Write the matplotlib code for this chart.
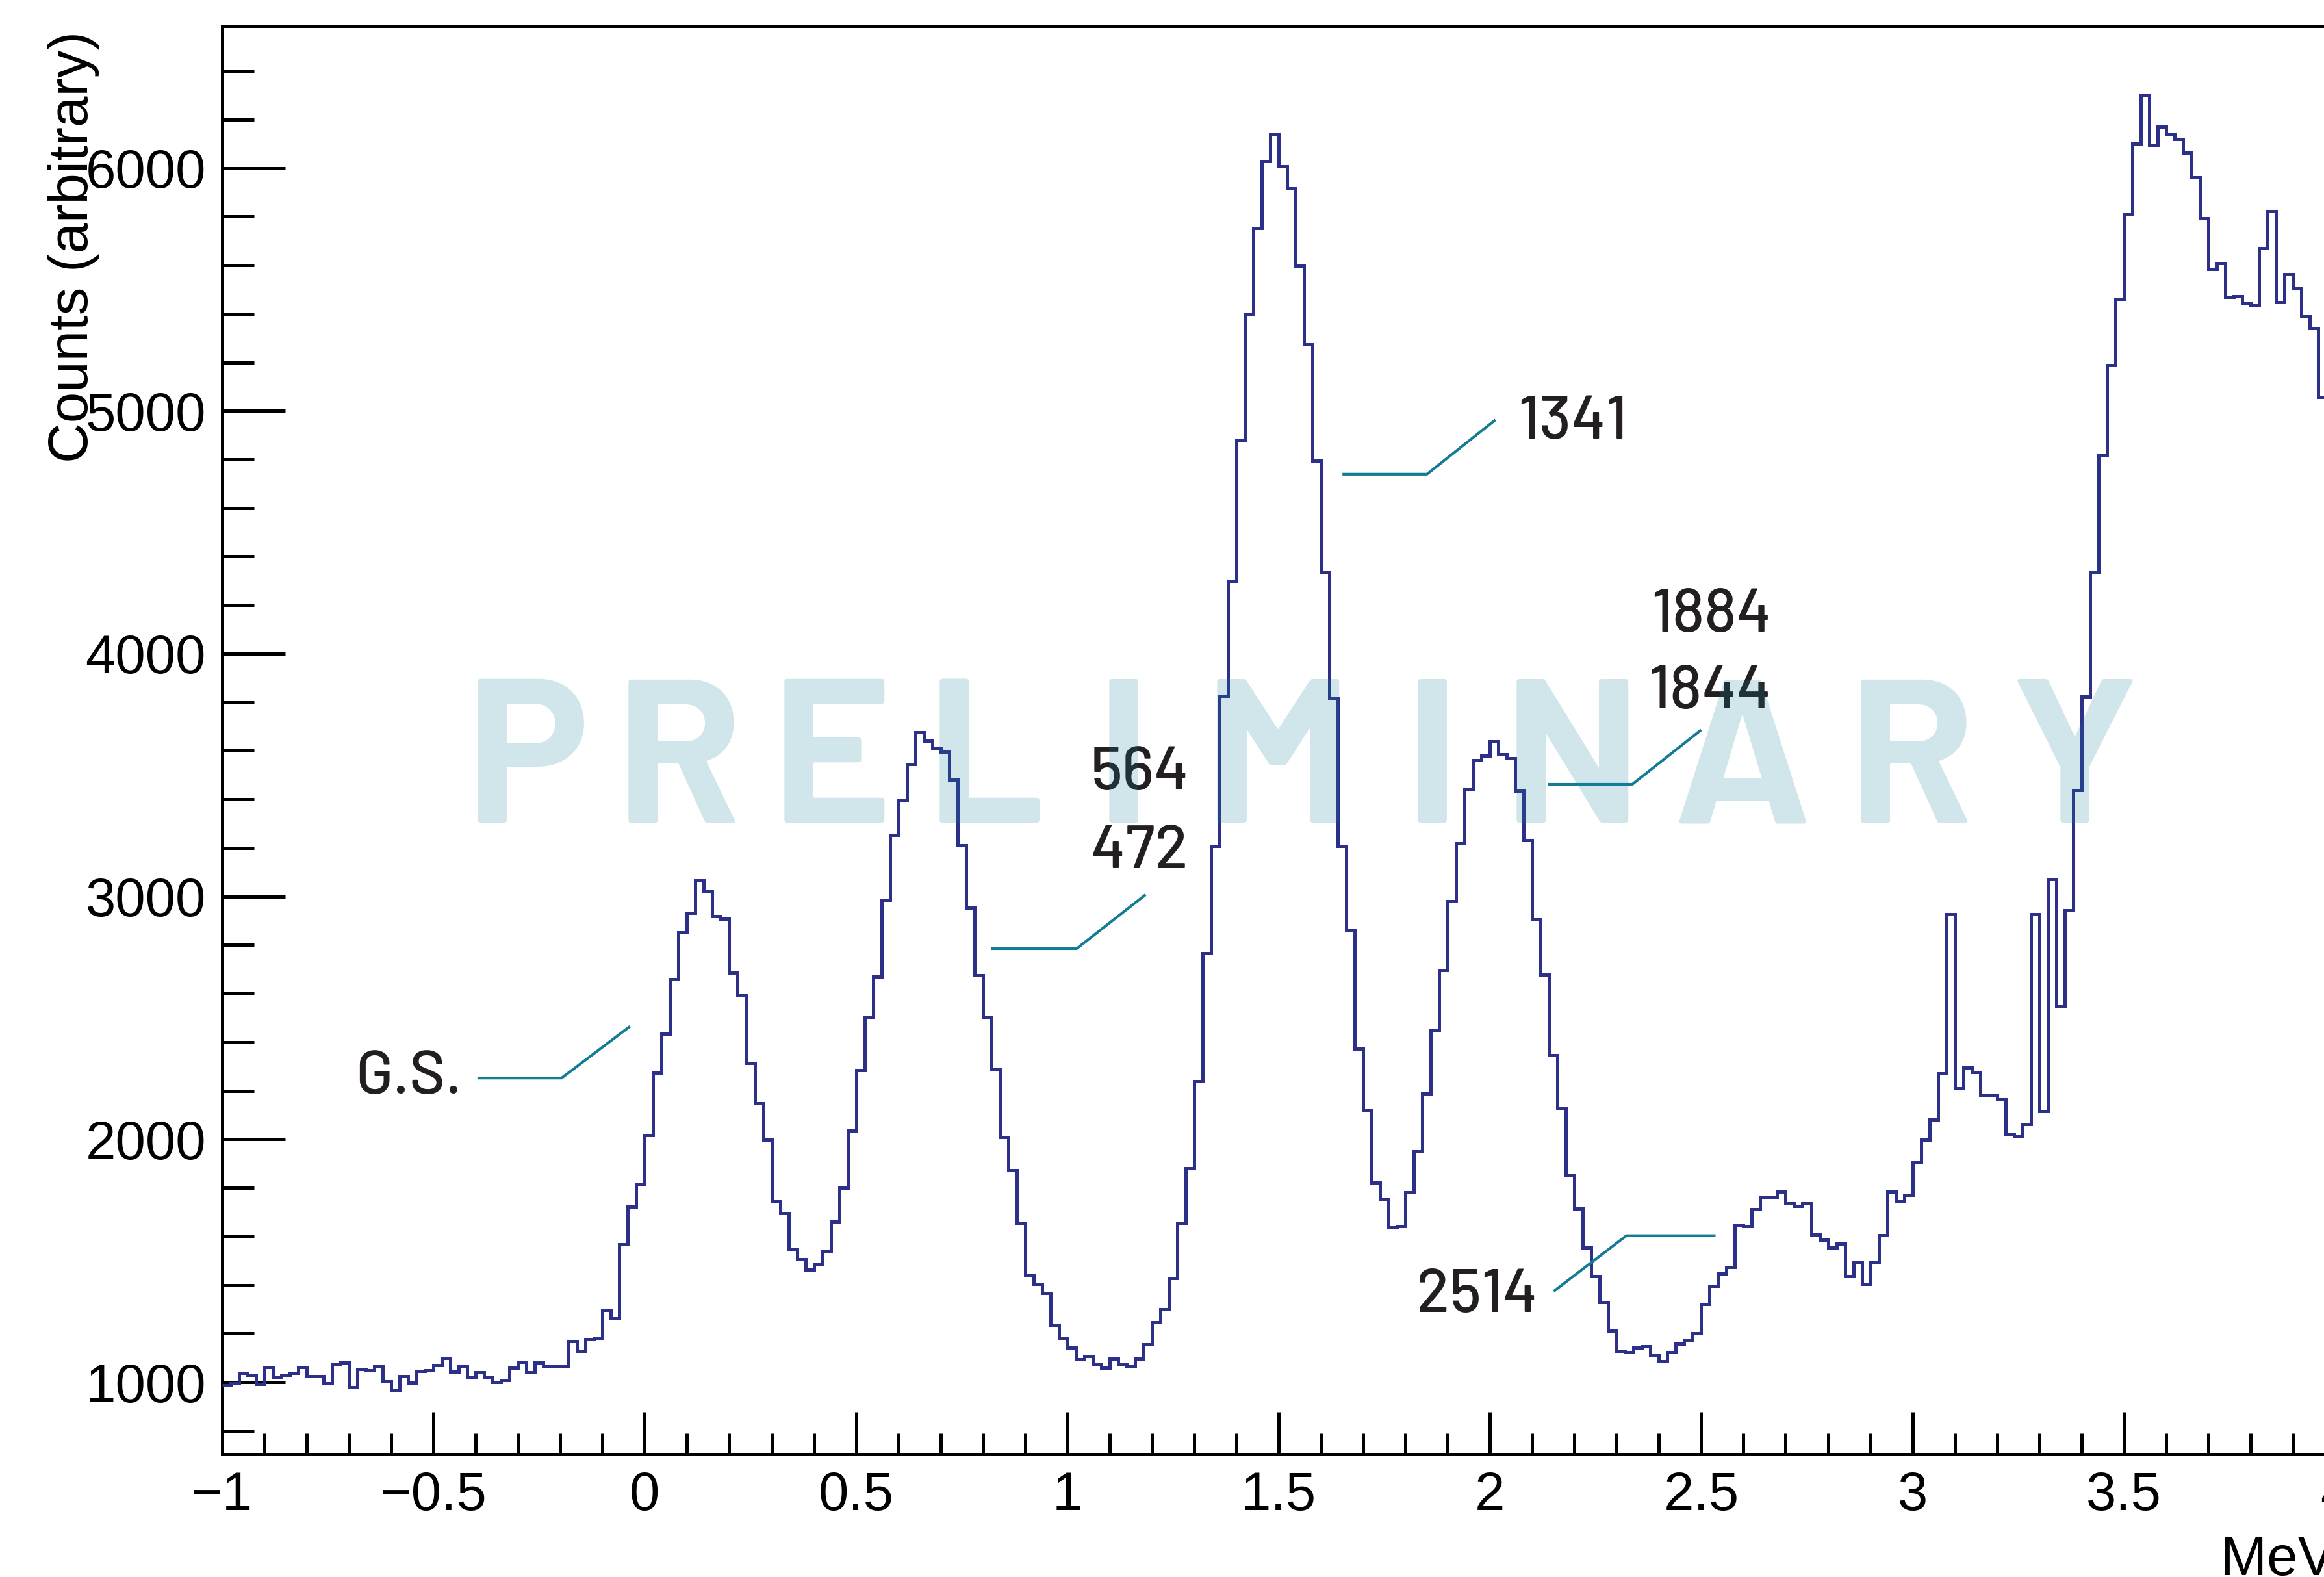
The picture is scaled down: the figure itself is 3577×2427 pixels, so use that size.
import numpy as np
import matplotlib
matplotlib.use('Agg')
import matplotlib.pyplot as plt
from matplotlib.ticker import MultipleLocator, FuncFormatter

# ---------------------------------------------------------------------------
# Config
# ---------------------------------------------------------------------------
W_PX, H_PX, DPI = 3577, 2427, 300
plt.rcParams['font.family'] = ['Liberation Sans', 'DejaVu Sans']

HIST_COLOR = '#2c3088'
LINE_COLOR = '#137c95'
LABEL_COLOR = '#231f20'
LABEL_FONT = ['Barlow', 'Roboto Condensed', 'DejaVu Sans']
WM_FONT = ['Barlow', 'Liberation Sans']

# ---------------------------------------------------------------------------
# Data
# ---------------------------------------------------------------------------
# histogram: 0.02 MeV bins starting at -1 MeV
bin_start = -1.0
bin_width = 0.02
counts = [
    987, 995, 1037, 1029, 991, 1061, 1018, 1029, 1038, 1061,
    1024, 1024, 994, 1071, 1080, 979, 1054, 1049, 1065, 1004,
    966, 1024, 998, 1045, 1049, 1069, 1098, 1043, 1067, 1018,
    1040, 1022, 1000, 1007, 1058, 1083, 1040, 1080, 1064, 1067,
    1067, 1169, 1129, 1178, 1183, 1296, 1261, 1567, 1722, 1815,
    2018, 2275, 2434, 2659, 2851, 2931, 3065, 3020, 2919, 2907,
    2686, 2591, 2314, 2149, 1998, 1743, 1695, 1545, 1507, 1462,
    1485, 1537, 1660, 1800, 2036, 2285, 2500, 2671, 2985, 3253,
    3394, 3544, 3675, 3642, 3610, 3597, 3482, 3210, 2953, 2675,
    2502, 2290, 2009, 1873, 1657, 1442, 1404, 1367, 1235, 1179,
    1141, 1095, 1108, 1075, 1058, 1096, 1075, 1068, 1096, 1154,
    1246, 1300, 1427, 1655, 1880, 2239, 2765, 3208, 3826, 4300,
    4881, 5396, 5754, 6028, 6137, 6007, 5915, 5598, 5275, 4794,
    4337, 3817, 3209, 2859, 2374, 2119, 1821, 1753, 1636, 1643,
    1781, 1950, 2189, 2450, 2696, 2979, 3218, 3440, 3562, 3581,
    3638, 3585, 3570, 3435, 3232, 2906, 2678, 2345, 2126, 1852,
    1714, 1553, 1436, 1329, 1212, 1128, 1123, 1141, 1146, 1110,
    1087, 1123, 1159, 1173, 1200, 1320, 1396, 1447, 1474, 1648,
    1643, 1713, 1759, 1763, 1785, 1737, 1726, 1737, 1607, 1585,
    1554, 1571, 1435, 1493, 1404, 1493, 1604, 1785, 1743, 1770,
    1904, 1999, 2080, 2270, 2926, 2209, 2294, 2277, 2182, 2182,
    2165, 2021, 2014, 2062, 2926, 2117, 3072, 2550, 2943, 3438,
    3823, 4335, 4820, 5189, 5462, 5810, 6100, 6298, 6095, 6170,
    6138, 6120, 6062, 5961, 5794, 5584, 5609, 5469, 5471, 5442,
    5435, 5671, 5821, 5447, 5564, 5504, 5388, 5341, 5056,
]

# state labels: text, right edge (MeV), baseline (counts)
label_text = ['G.S.', '564', '472', '1341', '1884', '1844', '2514']
label_x = [-0.433, 1.288, 1.285, 2.326, 2.666, 2.666, 2.112]
label_y = [2188, 3440, 3117, 4885, 4092, 3774, 1289]

# leader lines (MeV, counts)
leader_x = [[-0.396, -0.197, -0.035],
            [0.820, 1.022, 1.185],
            [1.651, 1.851, 2.013],
            [2.138, 2.337, 2.500],
            [2.151, 2.323, 2.534]]
leader_y = [[2252, 2252, 2465],
            [2785, 2785, 3007],
            [4739, 4739, 4963],
            [3462, 3462, 3686],
            [1374, 1603, 1603]]

# watermark letters and their centres (axes fraction)
wm_letters = list('PRELIMINARY')
wm_pos = [0.1445, 0.2161, 0.2884, 0.3613, 0.4267, 0.4997,
          0.5727, 0.6390, 0.7196, 0.7995, 0.8767]

# ---------------------------------------------------------------------------
# Figure
# ---------------------------------------------------------------------------
fig = plt.figure(figsize=(W_PX / DPI, H_PX / DPI), dpi=DPI)
ax = fig.add_axes([342 / W_PX, 1 - 2238 / H_PX,
                   (3594 - 342) / W_PX, (2238 - 40) / H_PX])

edges = bin_start + bin_width * np.arange(len(counts) + 1)
ax.stairs(counts, edges, baseline=None, color=HIST_COLOR, lw=1.2, zorder=3)

for xs, ys in zip(leader_x, leader_y):
    ax.plot(xs, ys, color=LINE_COLOR, lw=1.0, solid_capstyle='butt', zorder=4)

for t, x, y in zip(label_text, label_x, label_y):
    ax.text(x, y, t, ha='right', va='baseline', fontsize=22.5,
            fontweight='medium', color=LABEL_COLOR, family=LABEL_FONT,
            zorder=5)

for ch, xp in zip(wm_letters, wm_pos):
    ax.text(xp, 0.4422, ch, transform=ax.transAxes, ha='center', va='baseline',
            fontsize=76, fontweight='bold', family=WM_FONT,
            color='#158399', alpha=0.2, zorder=6)

ax.set_xlim(-1, 4)
ax.set_ylim(703, 6585)

fmt = FuncFormatter(lambda v, pos: ('%g' % v).replace('-', '\u2212'))
ax.xaxis.set_major_locator(MultipleLocator(0.5))
ax.xaxis.set_minor_locator(MultipleLocator(0.1))
ax.yaxis.set_major_locator(MultipleLocator(1000))
ax.yaxis.set_minor_locator(MultipleLocator(200))
ax.xaxis.set_major_formatter(fmt)
ax.yaxis.set_major_formatter(fmt)

ax.tick_params(axis='both', which='both', direction='in', width=1.2,
               labelsize=20, top=False, right=False)
ax.tick_params(axis='y', which='major', length=23.3, pad=6)
ax.tick_params(axis='y', which='minor', length=11.8)
ax.tick_params(axis='x', which='major', length=15.6, pad=6)
ax.tick_params(axis='x', which='minor', length=7.7)
for sp in ax.spines.values():
    sp.set_linewidth(1.2)

fig.text(135 / W_PX, 1 - 48 / H_PX, 'Counts (arbitrary)', rotation=90,
         rotation_mode='anchor', ha='right', va='baseline', fontsize=20.5)
fig.text(3594 / W_PX, 1 - 2424 / H_PX, 'MeV', ha='right', va='baseline',
         fontsize=20.5)

fig.savefig('out.png', dpi=DPI)
